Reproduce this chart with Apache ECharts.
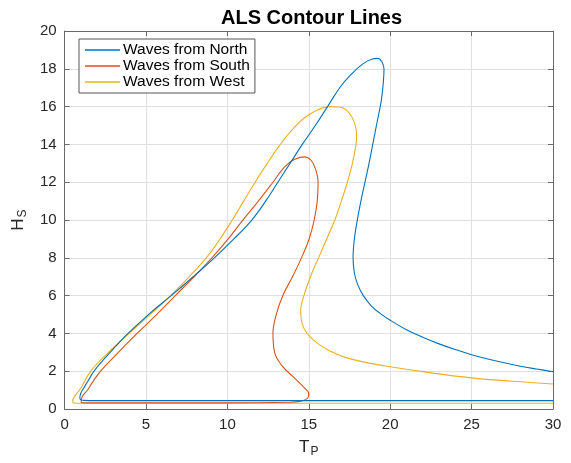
<!DOCTYPE html>
<html>
<head>
<meta charset="utf-8">
<script src="https://cdn.jsdelivr.net/npm/echarts@6/dist/echarts.min.js"></script>
<style>
  html, body { margin: 0; padding: 0; background: #fff; }
  #chart { width: 571px; height: 463px; }
</style>
</head>
<body>
<div id="chart"></div>
<script>
// Contour lines of Hs versus Tp, one traced path per wave direction: [Tp, Hs]
const northContour = [
  [30, 0.45], [2, 0.45], [1.15, 0.46], [0.98, 0.5], [0.94, 0.6], [1.0, 0.85],
  [1.2, 1.15], [1.45, 1.5], [1.8, 2], [2.8, 3], [3.9, 4], [5.15, 5], [6.55, 6],
  [7.9, 7], [9.2, 8], [10.4, 9], [11.5, 10], [12.35, 11], [13.1, 12],
  [13.85, 13], [14.6, 14], [15.4, 15], [16.15, 16], [16.9, 17], [17.6, 17.7],
  [18.3, 18.25], [18.9, 18.52], [19.25, 18.55], [19.5, 18.35], [19.62, 18.0],
  [19.58, 17.3], [19.45, 16.3], [19.2, 15.2], [18.95, 14.1], [18.7, 13],
  [18.45, 12], [18.2, 11], [17.98, 10], [17.8, 9], [17.72, 8], [17.8, 7.2],
  [18.0, 6.6], [18.35, 6.0], [18.85, 5.45], [19.4, 5.05], [20, 4.7], [21, 4.2],
  [22, 3.8], [23, 3.45], [24, 3.15], [25, 2.88], [26, 2.65], [27, 2.45],
  [28, 2.27], [29, 2.12], [30, 1.98]
];
const southContour = [
  [13.9, 0.36], [10, 0.33], [5, 0.33], [1.2, 0.33], [1.02, 0.38], [1.08, 0.65],
  [1.4, 1.0], [1.7, 1.4], [2.2, 2], [3.3, 3], [4.45, 4], [5.65, 5], [6.8, 6],
  [7.95, 7], [9.05, 8], [10.05, 9], [10.95, 10], [11.9, 11], [12.8, 12],
  [13.5, 12.8], [14.1, 13.2], [14.7, 13.34], [15.15, 13.15], [15.45, 12.6],
  [15.57, 12], [15.52, 11], [15.33, 10], [15.02, 9], [14.55, 8], [14.0, 7],
  [13.4, 6], [13.0, 5], [12.8, 4], [12.9, 3], [13.35, 2.3], [14.05, 1.7],
  [14.7, 1.15], [15.0, 0.8], [14.9, 0.55], [14.5, 0.42], [13.9, 0.36]
];
const westContour = [
  [30, 0.31], [2, 0.31], [0.7, 0.31], [0.52, 0.34], [0.5, 0.45], [0.65, 0.7],
  [0.95, 1.05], [1.6, 2], [2.7, 3], [3.95, 4], [5.25, 5], [6.5, 6], [7.65, 7],
  [8.7, 8], [9.55, 9], [10.3, 10], [11.0, 11], [11.7, 12], [12.45, 13],
  [13.25, 14], [14.0, 14.8], [14.8, 15.45], [15.6, 15.85], [16.3, 16.0],
  [16.9, 15.98], [17.45, 15.7], [17.8, 15.15], [17.94, 14.5], [17.9, 14],
  [17.68, 13], [17.37, 12], [17.0, 11], [16.6, 10], [16.1, 9], [15.6, 8],
  [15.1, 7], [14.7, 6], [14.5, 5.2], [14.6, 4.5], [14.9, 4.0], [15.5, 3.5],
  [16.3, 3.07], [17.2, 2.75], [18.5, 2.47], [20, 2.24], [22, 1.98],
  [25, 1.65], [27.5, 1.47], [30, 1.33]
];
const seriesNames = ['Waves from North', 'Waves from South', 'Waves from West'];
const seriesColors = ['#0072BD', '#D95319', '#EDB120'];
const tpTicks = [0, 5, 10, 15, 20, 25, 30];
const hsTicks = [0, 2, 4, 6, 8, 10, 12, 14, 16, 18, 20];

const FONT = '"Liberation Sans", Arial, Helvetica, sans-serif';
const AXIS_COLOR = '#6a6a6a';
const TEXT_COLOR = '#262626';

const chart = echarts.init(document.getElementById('chart'), null, { renderer: 'canvas' });

function mainAxis(extra) {
  return Object.assign({
    type: 'value',
    axisLine: { show: true, onZero: false, lineStyle: { color: AXIS_COLOR, width: 1 } },
    axisTick: { show: true, inside: true, length: 5, lineStyle: { color: AXIS_COLOR } },
    axisLabel: { color: TEXT_COLOR, fontSize: 15, fontFamily: FONT, margin: 8 },
    splitLine: { show: true, lineStyle: { color: '#e0e0e0', width: 1 } }
  }, extra);
}
function mirrorAxis(extra) {
  return Object.assign({
    type: 'value',
    axisLine: { show: true, onZero: false, lineStyle: { color: AXIS_COLOR, width: 1 } },
    axisTick: { show: true, inside: true, length: 5, lineStyle: { color: AXIS_COLOR } },
    axisLabel: { show: false },
    splitLine: { show: false }
  }, extra);
}

const subRich = {
  m: { fontSize: 17, fontFamily: FONT, color: TEXT_COLOR, verticalAlign: 'top', lineHeight: 17 },
  s: { fontSize: 12, fontFamily: FONT, color: TEXT_COLOR, padding: [9, 0, 0, 1], lineHeight: 12 }
};

const contours = [northContour, southContour, westContour];

chart.setOption({
  animation: false,
  backgroundColor: '#ffffff',
  title: {
    text: 'ALS Contour Lines',
    left: 216,
    top: 3,
    textStyle: { fontSize: 20, fontWeight: 'bold', fontFamily: FONT, color: '#000' }
  },
  legend: {
    orient: 'vertical',
    left: 79,
    top: 39,
    padding: [3, 5, 3, 6],
    itemGap: 0,
    itemWidth: 35,
    itemHeight: 1.3,
    icon: 'rect',
    borderColor: '#555',
    borderWidth: 1,
    backgroundColor: '#fff',
    textStyle: { fontSize: 15.5, fontFamily: FONT, color: '#000', lineHeight: 15, padding: [0, 0, 0, -2] },
    data: seriesNames
  },
  grid: { left: 63, right: 18, top: 31, bottom: 43, containLabel: false },
  xAxis: [
    mainAxis({
      min: tpTicks[0], max: tpTicks[tpTicks.length - 1], interval: 5,
      name: '{m|T}{s|P}', nameLocation: 'middle', nameGap: 24,
      nameTextStyle: { rich: subRich }
    }),
    mirrorAxis({ position: 'top', min: tpTicks[0], max: tpTicks[tpTicks.length - 1], interval: 5 })
  ],
  yAxis: [
    mainAxis({
      min: hsTicks[0], max: hsTicks[hsTicks.length - 1], interval: 2,
      name: '{m|H}{s|S}', nameLocation: 'middle', nameGap: 31, nameRotate: 90,
      nameTextStyle: { rich: subRich }
    }),
    mirrorAxis({ position: 'right', min: hsTicks[0], max: hsTicks[hsTicks.length - 1], interval: 2 })
  ],
  series: contours.map((pts, i) => ({
    name: seriesNames[i],
    type: 'line',
    data: pts,
    xAxisIndex: 0,
    yAxisIndex: 0,
    symbol: 'none',
    smooth: 0.4,
    clip: true,
    color: seriesColors[i],
    lineStyle: { color: seriesColors[i], width: 1.1 },
    z: 3 - i
  }))
});
</script>
</body>
</html>
